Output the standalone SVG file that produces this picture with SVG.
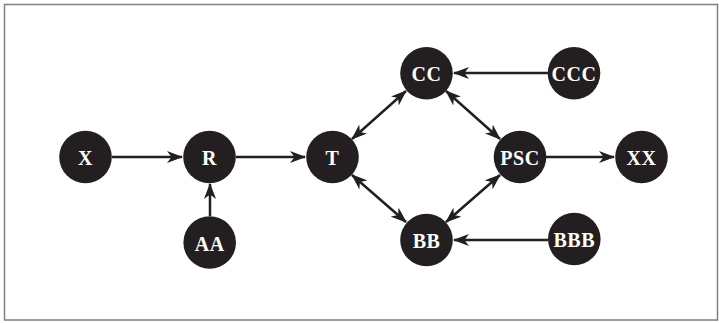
<svg xmlns="http://www.w3.org/2000/svg" width="719" height="323" viewBox="0 0 719 323">
<defs>
<marker id="ah" viewBox="0 0 16 12" refX="15" refY="6" markerWidth="16" markerHeight="12" markerUnits="userSpaceOnUse" orient="auto-start-reverse">
<path d="M0,0 L16,6 L0,12 L4.5,6 Z" fill="#231f20"/>
</marker>
</defs>
<style>
.n circle{fill:#231f20}
.n text{fill:#fff;font-family:"Liberation Serif","Times New Roman",serif;font-size:20px;font-weight:bold;letter-spacing:0.5px;text-anchor:middle;dominant-baseline:central}
.e line{stroke:#231f20;stroke-width:2.5;fill:none}
</style>
<rect x="4.5" y="4.5" width="713" height="315.5" fill="#fff" stroke="#808080" stroke-width="1.5"/>
<g id="connectors" class="e">
<line x1="112" y1="157" x2="182" y2="157" marker-end="url(#ah)"/>
<line x1="236" y1="157" x2="305" y2="157" marker-end="url(#ah)"/>
<line x1="210" y1="216" x2="210" y2="184" marker-end="url(#ah)"/>
<line x1="548" y1="73" x2="454" y2="73" marker-end="url(#ah)"/>
<line x1="548" y1="240" x2="454" y2="240" marker-end="url(#ah)"/>
<line x1="546" y1="157" x2="614" y2="157" marker-end="url(#ah)"/>
<line x1="352" y1="139" x2="406" y2="91" marker-start="url(#ah)" marker-end="url(#ah)"/>
<line x1="352" y1="175" x2="406" y2="222" marker-start="url(#ah)" marker-end="url(#ah)"/>
<line x1="446" y1="91" x2="500" y2="139" marker-start="url(#ah)" marker-end="url(#ah)"/>
<line x1="446" y1="222" x2="500" y2="175" marker-start="url(#ah)" marker-end="url(#ah)"/>
</g>
<g id="X" class="n"><circle cx="85.5" cy="157" r="26.3"/><text x="85.5" y="158">X</text></g>
<g id="R" class="n"><circle cx="209.5" cy="157" r="26.3"/><text x="209.5" y="158">R</text></g>
<g id="AA" class="n"><circle cx="209.7" cy="242.5" r="26.3"/><text x="209.7" y="243.5">AA</text></g>
<g id="T" class="n"><circle cx="332.5" cy="157" r="26.3"/><text x="332.5" y="158">T</text></g>
<g id="CC" class="n"><circle cx="426.5" cy="73.3" r="26.3"/><text x="426.5" y="74.3">CC</text></g>
<g id="BB" class="n"><circle cx="426.5" cy="240" r="26.3"/><text x="426.5" y="241">BB</text></g>
<g id="PSC" class="n"><circle cx="520" cy="157" r="26.3"/><text x="520" y="158">PSC</text></g>
<g id="CCC" class="n"><circle cx="574" cy="73.3" r="26.3"/><text x="574" y="74.3">CCC</text></g>
<g id="BBB" class="n"><circle cx="574.3" cy="239" r="26.3"/><text x="574.3" y="240">BBB</text></g>
<g id="XX" class="n"><circle cx="641.5" cy="157" r="26.3"/><text x="641.5" y="158">XX</text></g>
</svg>
